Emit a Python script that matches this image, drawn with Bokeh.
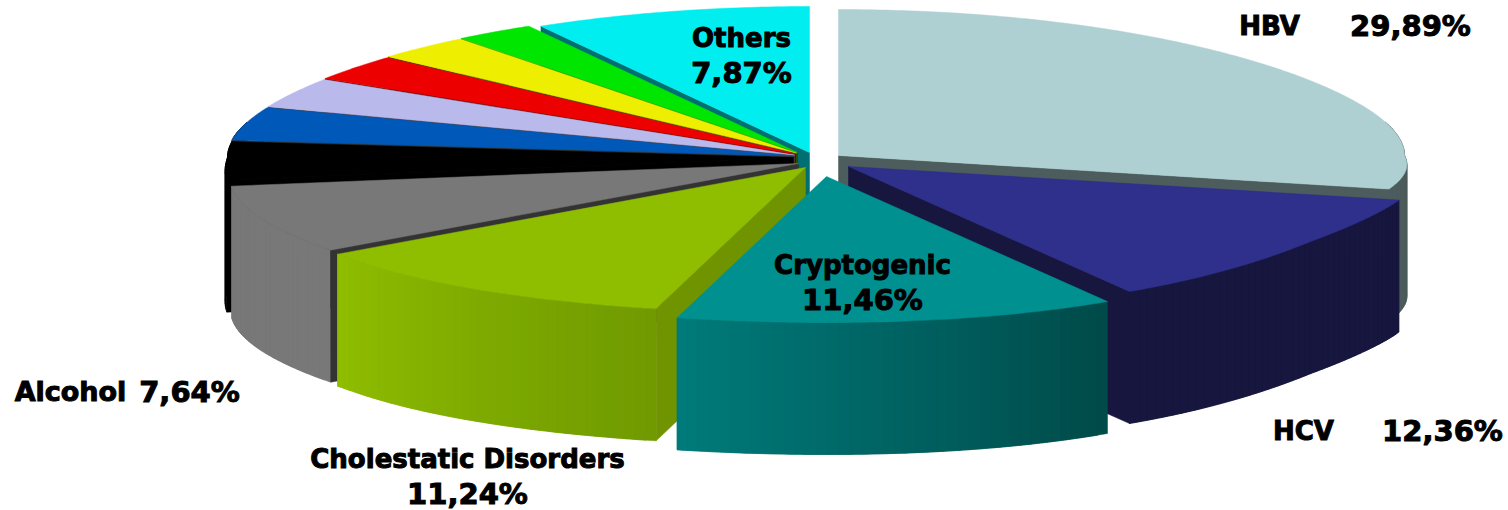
import numpy as np
from bokeh.core.properties import value
from bokeh.embed import file_html
from bokeh.plotting import figure
from bokeh.resources import INLINE

# Slice shares in percent, clockwise from twelve o'clock
slice_names = ["HBV", "HCV", "Cryptogenic", "Cholestatic Disorders", "Alcohol",
               "Black", "Blue", "Lavender", "Red", "Yellow", "Green", "Others"]
slice_values = [29.89, 12.36, 11.46, 11.24, 7.64, 4.4, 4.0, 3.4, 2.8, 2.7, 2.25, 7.87]

top_colors = ["#aed0d2", "#2f2f8c", "#009090", "#8fbd00", "#787878", "#000000",
              "#0058b8", "#b9b9ec", "#ec0000", "#eeee00", "#00e600", "#00eef0"]
rim_from = ["#4d5c5c", "#16163f", "#004a48", "#709a00", "#787878", "#000000",
            "#000000", "#5c5c76", "#760000", "#777700", "#007300", "#007072"]
rim_to = ["#4d5c5c", "#16163f", "#007b7b", "#8fbd00", "#787878", "#000000",
          "#000000", "#5c5c76", "#760000", "#777700", "#007300", "#007072"]
wall_colors = ["#4d5c5c", "#16163f", "#006060", "#6f9400", "#333333", "#000000",
               "#333333", "#444444", "#550000", "#444400", "#005500", "#006f72"]

# Where each slice's tip sits on the page once the pie is pulled apart
tip_x = [838, 848, 826, 805, 798, 793, 793, 794, 795, 796, 797, 809]
tip_y = [155, 166, 176, 167, 163, 157, 155.5, 154.5, 153.5, 152.5, 152, 152]

# Text pieces: string, centre x, centre y, size
label_text = ["HBV", "29,89%", "HCV", "12,36%", "Others", "7,87%", "Cryptogenic", "11,46%",
              "Alcohol", "7,64%", "Cholestatic Disorders", "11,24%"]
label_x = [1269, 1410, 1303, 1442, 741, 741, 862, 862, 70, 189, 467, 467]
label_y = [25, 25, 430, 430, 37, 72, 264, 299, 391, 391, 458, 493]
label_size = [26, 29, 26, 29, 26, 29, 26, 29, 27, 29, 26, 29]

RADIUS_X = 566.0
RADIUS_Y = 146.0
FRONT_SWELL = 0.09
SIDE_SWELL = 0.018
TILT = -22.0
DEPTH = 132.0
DRAW_ORDER = [0, 11, 10, 9, 8, 7, 6, 5, 4, 1, 3, 2]


def rim_point(tx, ty, deg):
    """Page position of the rim at a clockwise angle, for a slice tipped at (tx, ty)."""
    deg = np.asarray(deg, dtype=float)
    # The front-left of the pie leans a little further round than the rest
    lean = 0.8 * np.sin(np.pi * np.clip((deg - 150.0) / 100.0, 0.0, 1.0))
    a = np.radians(deg + lean)
    sx, toward = np.sin(a), -np.cos(a)
    front = np.maximum(toward, 0.0)
    flattened = toward - 0.04 * np.sin(np.pi * toward)
    swell = (1 + FRONT_SWELL * front ** 3
             + SIDE_SWELL * np.sin(np.pi * np.minimum(front / 0.6, 1.0)))
    px = tx + RADIUS_X * swell * sx
    py = ty + RADIUS_Y * flattened + TILT * sx ** 3 * front
    return px, py


def blend(c0, c1, t):
    a = [int(c0[i:i + 2], 16) for i in (1, 3, 5)]
    b = [int(c1[i:i + 2], 16) for i in (1, 3, 5)]
    return "#%02x%02x%02x" % tuple(round(u + (v - u) * t) for u, v in zip(a, b))


p = figure(width=1508, height=510, x_range=(0, 1508), y_range=(510, 0),
           toolbar_location=None, output_backend="svg", min_border=0,
           background_fill_color="white", border_fill_color="white")
p.axis.visible = False
p.grid.visible = False
p.outline_line_color = None

edges = np.concatenate([[0.0], np.cumsum(slice_values)]) * 360.0 / sum(slice_values)

xs, ys, fills = [], [], []


def add(px, py, color):
    xs.append(list(px))
    ys.append(list(py))
    fills.append(color)


for i in DRAW_ORDER:
    a0, a1 = edges[i], edges[i + 1]
    tx, ty = tip_x[i], tip_y[i]

    # Outer rim, only where it can face the viewer; each strip reaches past the
    # next one so neighbouring shades leave no seam
    lo, hi = max(a0, 75.0), min(a1, 285.0)
    if hi > lo:
        steps = max(int(hi - lo), 2)
        angles = np.linspace(lo, hi, steps + 1)
        for j in range(steps):
            stop = angles[min(j + 2, steps)]
            span = np.linspace(angles[j], stop, 5)
            sx, sy = rim_point(tx, ty, span)
            shade = blend(rim_from[i], rim_to[i], (j + 0.5) / steps)
            add(np.r_[sx, sx[::-1]], np.r_[sy, sy[::-1] + DEPTH], shade)

    # Cut faces that turn toward the viewer
    faces = []
    if a0 >= 180:
        faces.append(a0)
    if a1 <= 180:
        faces.append(a1)
    for a in faces:
        ox, oy = rim_point(tx, ty, a)
        add([tx, ox, ox, tx], [ty, oy, oy + DEPTH, ty + DEPTH], wall_colors[i])

    # Top face
    arc = np.linspace(a0, a1, int((a1 - a0) * 2) + 2)
    rx, ry = rim_point(tx, ty, arc)
    add(np.r_[tx, rx], np.r_[ty, ry], top_colors[i])

p.patches(xs, ys, fill_color=fills, line_color=fills, line_width=0.5)

p.text(label_x, label_y, text=label_text, text_font=value("DejaVu Sans"),
       text_font_style="bold", text_font_size=[f"{s}px" for s in label_size],
       text_align="center", text_baseline="middle", text_color="black",
       text_outline_color="black")

open("out.html", "w").write(file_html(p, INLINE))
